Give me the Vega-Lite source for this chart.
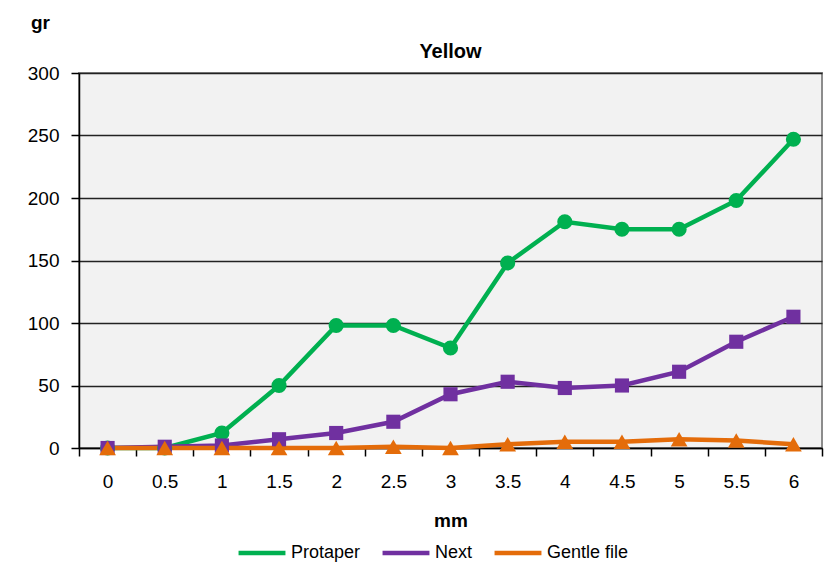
{
  "$schema": "https://vega.github.io/schema/vega-lite/v6.json",
  "width": 743,
  "height": 375,
  "autosize": {"type": "none"},
  "padding": {"left": 79, "top": 73, "right": 13, "bottom": 125},
  "background": "white",
  "title": {"text": "Yellow", "fontSize": 20, "font": "Liberation Sans", "fontWeight": "bold", "color": "black", "offset": 12, "dy": 61, "anchor": "middle"},
  "config": {
    "view": {"fill": "#f2f2f2", "stroke": "#8c8c8c", "strokeWidth": 2},
    "font": "Liberation Sans"
  },
  "data": {"values": [
    {"mm": "0", "o": 0, "s": "Protaper", "gr": 0},
    {"mm": "0.5", "o": 1, "s": "Protaper", "gr": 0},
    {"mm": "1", "o": 2, "s": "Protaper", "gr": 12},
    {"mm": "1.5", "o": 3, "s": "Protaper", "gr": 50},
    {"mm": "2", "o": 4, "s": "Protaper", "gr": 98},
    {"mm": "2.5", "o": 5, "s": "Protaper", "gr": 98},
    {"mm": "3", "o": 6, "s": "Protaper", "gr": 80},
    {"mm": "3.5", "o": 7, "s": "Protaper", "gr": 148},
    {"mm": "4", "o": 8, "s": "Protaper", "gr": 181},
    {"mm": "4.5", "o": 9, "s": "Protaper", "gr": 175},
    {"mm": "5", "o": 10, "s": "Protaper", "gr": 175},
    {"mm": "5.5", "o": 11, "s": "Protaper", "gr": 198},
    {"mm": "6", "o": 12, "s": "Protaper", "gr": 247},
    {"mm": "0", "o": 0, "s": "Next", "gr": 0},
    {"mm": "0.5", "o": 1, "s": "Next", "gr": 1},
    {"mm": "1", "o": 2, "s": "Next", "gr": 2},
    {"mm": "1.5", "o": 3, "s": "Next", "gr": 7},
    {"mm": "2", "o": 4, "s": "Next", "gr": 12},
    {"mm": "2.5", "o": 5, "s": "Next", "gr": 21},
    {"mm": "3", "o": 6, "s": "Next", "gr": 43},
    {"mm": "3.5", "o": 7, "s": "Next", "gr": 53},
    {"mm": "4", "o": 8, "s": "Next", "gr": 48},
    {"mm": "4.5", "o": 9, "s": "Next", "gr": 50},
    {"mm": "5", "o": 10, "s": "Next", "gr": 61},
    {"mm": "5.5", "o": 11, "s": "Next", "gr": 85},
    {"mm": "6", "o": 12, "s": "Next", "gr": 105},
    {"mm": "0", "o": 0, "s": "Gentle file", "gr": 0},
    {"mm": "0.5", "o": 1, "s": "Gentle file", "gr": 0},
    {"mm": "1", "o": 2, "s": "Gentle file", "gr": 0},
    {"mm": "1.5", "o": 3, "s": "Gentle file", "gr": 0},
    {"mm": "2", "o": 4, "s": "Gentle file", "gr": 0},
    {"mm": "2.5", "o": 5, "s": "Gentle file", "gr": 1},
    {"mm": "3", "o": 6, "s": "Gentle file", "gr": 0},
    {"mm": "3.5", "o": 7, "s": "Gentle file", "gr": 3},
    {"mm": "4", "o": 8, "s": "Gentle file", "gr": 5},
    {"mm": "4.5", "o": 9, "s": "Gentle file", "gr": 5},
    {"mm": "5", "o": 10, "s": "Gentle file", "gr": 7},
    {"mm": "5.5", "o": 11, "s": "Gentle file", "gr": 6},
    {"mm": "6", "o": 12, "s": "Gentle file", "gr": 3}
  ]},
  "encoding": {
    "x": {
      "field": "mm", "type": "ordinal", "sort": {"field": "o"},
      "bandPosition": 0.5,
      "scale": {"type": "band", "paddingInner": 0, "paddingOuter": 0},
      "axis": {
        "title": "mm", "titleFontSize": 19, "titleFontWeight": "bold", "titleColor": "black", "titlePadding": 20,
        "labelAngle": 0, "labelFontSize": 19, "labelColor": "black", "labelPadding": 16,
        "tickBand": "extent", "ticks": true, "tickSize": 8, "tickColor": "black", "tickWidth": 1.5,
        "domainColor": "black", "domainWidth": 1.5, "grid": false
      }
    },
    "y": {
      "field": "gr", "type": "quantitative",
      "scale": {"domain": [0, 300], "nice": false},
      "axis": {
        "values": [0, 50, 100, 150, 200, 250, 300],
        "title": "gr", "titleAngle": 0, "titleX": -39, "titleY": -51, "titleAlign": "center", "titleBaseline": "middle",
        "titleFontSize": 19, "titleFontWeight": "bold", "titleColor": "black",
        "labelFontSize": 19, "labelColor": "black", "labelPadding": 12,
        "tickSize": 8, "tickColor": "black", "tickWidth": 1.5,
        "domainColor": "black", "domainWidth": 1.5,
        "grid": true, "gridColor": "#222222", "gridWidth": 1.5
      }
    }
  },
  "layer": [
    {
      "mark": {"type": "line", "strokeWidth": 4.5},
      "encoding": {
        "color": {
          "field": "s", "type": "nominal",
          "scale": {"domain": ["Protaper", "Next", "Gentle file"], "range": ["#00b050", "#7030a0", "#e46c0a"]},
          "legend": {
            "title": null, "orient": "none", "direction": "horizontal", "legendX": 157, "legendY": 454,
            "labelFontSize": 18, "labelColor": "black", "symbolType": "stroke", "symbolSize": 2200, "symbolStrokeWidth": 4.5, "columnPadding": 12, "labelOffset": 3
          }
        }
      }
    },
    {
      "transform": [{"filter": "datum.s === 'Protaper'"}],
      "mark": {"type": "point", "shape": "circle", "size": 230, "filled": true, "opacity": 1, "fill": "#00b050"}
    },
    {
      "transform": [{"filter": "datum.s === 'Next'"}],
      "mark": {"type": "point", "shape": "square", "size": 200, "filled": true, "opacity": 1, "fill": "#7030a0"}
    },
    {
      "transform": [{"filter": "datum.s === 'Gentle file'"}],
      "mark": {"type": "point", "shape": "triangle-up", "size": 280, "filled": true, "opacity": 1, "fill": "#e46c0a"}
    }
  ]
}
